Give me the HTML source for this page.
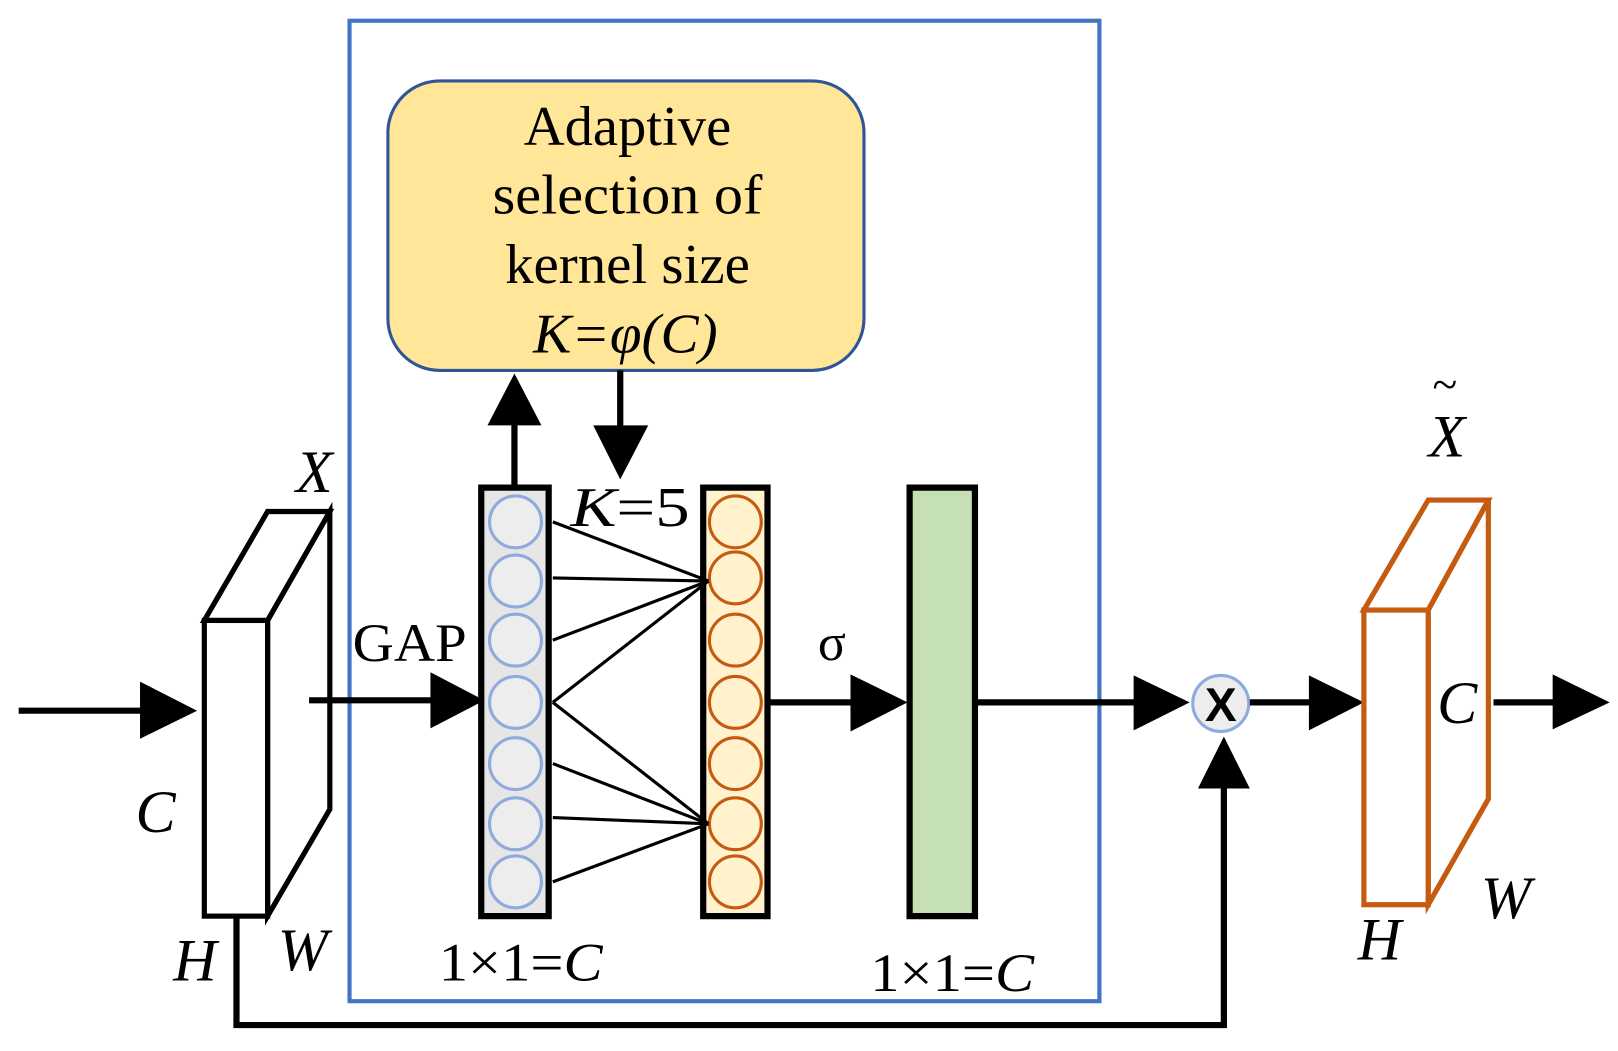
<!DOCTYPE html>
<html><head><meta charset="utf-8"><style>html,body{margin:0;padding:0;background:#fff}svg{display:block}</style></head>
<body>
<svg width="1618" height="1051" viewBox="0 0 1560 1013" preserveAspectRatio="none" xmlns="http://www.w3.org/2000/svg" font-family="Liberation Serif, serif">
<rect x="337" y="20" width="723" height="945" fill="none" stroke="#4472C4" stroke-width="4"/>
<rect x="374" y="78" width="459" height="279" rx="50" fill="#FFE699" stroke="#2F5597" stroke-width="3"/>
<g font-size="54" text-anchor="middle" fill="#000">
<text x="605" y="140" textLength="200" lengthAdjust="spacingAndGlyphs">Adaptive</text>
<text x="605" y="206" textLength="260" lengthAdjust="spacingAndGlyphs">selection of</text>
<text x="605" y="273" textLength="236" lengthAdjust="spacingAndGlyphs">kernel size</text>
<text x="603" y="340" font-style="italic" textLength="178" lengthAdjust="spacingAndGlyphs">K=φ(C)</text>
</g>
<line x1="496" y1="468" x2="496" y2="405" stroke="#000" stroke-width="6"/>
<polygon points="496,360 470,410 522,410" fill="#000"/>
<line x1="598" y1="357" x2="598" y2="415" stroke="#000" stroke-width="6"/>
<polygon points="598,462 572,410 625,410" fill="#000"/>
<rect x="464" y="470" width="65" height="413" fill="#E7E6E6" stroke="#000" stroke-width="6"/>
<g fill="#EDEDED" stroke="#8FAADC" stroke-width="3">
<circle cx="497" cy="503" r="25"/><circle cx="497" cy="560" r="25"/><circle cx="497" cy="617" r="25"/><circle cx="497" cy="677" r="25"/><circle cx="497" cy="736" r="25"/><circle cx="497" cy="794" r="25"/><circle cx="497" cy="850" r="25"/>
</g>
<rect x="678" y="470" width="62" height="413" fill="#FFF2CC" stroke="#000" stroke-width="6"/>
<g fill="#FFF2CC" stroke="#C55A11" stroke-width="3">
<circle cx="709" cy="503" r="25"/><circle cx="709" cy="557" r="25"/><circle cx="709" cy="617" r="25"/><circle cx="709" cy="677" r="25"/><circle cx="709" cy="736" r="25"/><circle cx="709" cy="794" r="25"/><circle cx="709" cy="850" r="25"/>
</g>
<g stroke="#000" stroke-width="3">
<line x1="533" y1="503" x2="683" y2="560"/><line x1="533" y1="557" x2="683" y2="560"/><line x1="533" y1="617" x2="683" y2="560"/><line x1="533" y1="677" x2="683" y2="560"/>
<line x1="533" y1="677" x2="683" y2="794"/><line x1="533" y1="736" x2="683" y2="794"/><line x1="533" y1="788" x2="683" y2="794"/><line x1="533" y1="850" x2="683" y2="794"/>
</g>
<text x="550" y="507" font-size="54" textLength="115" lengthAdjust="spacingAndGlyphs"><tspan font-style="italic">K</tspan>=5</text>
<rect x="877" y="470" width="63" height="413" fill="#C5E0B4" stroke="#000" stroke-width="6"/>
<line x1="740" y1="677" x2="825" y2="677" stroke="#000" stroke-width="6"/>
<polygon points="875,677 820,650 820,705" fill="#000"/>
<text x="802" y="636" font-size="50" text-anchor="middle">σ</text>
<line x1="940" y1="677" x2="1100" y2="677" stroke="#000" stroke-width="6"/>
<polygon points="1147,677 1093,651 1093,704" fill="#000"/>
<circle cx="1177" cy="678" r="27" fill="#EDEDED" stroke="#8FAADC" stroke-width="3"/>
<text x="1177" y="695" font-size="46" font-weight="bold" font-family="Liberation Sans, sans-serif" text-anchor="middle">X</text>
<line x1="1205" y1="677" x2="1268" y2="677" stroke="#000" stroke-width="6"/>
<polygon points="1315,677 1262,651 1262,704" fill="#000"/>
<g fill="#fff" stroke="#C55A11" stroke-width="5">
<polygon points="1377,588 1435,482 1435,770 1377,872"/>
<polygon points="1315,588 1377,482 1435,482 1377,588"/>
<rect x="1315" y="588" width="62" height="284"/>
</g>
<g font-size="58" font-style="italic" text-anchor="middle">
<text x="1395" y="440">X</text>
<text x="1405" y="697">C</text>
<text x="1452" y="885">W</text>
<text x="1330" y="925">H</text>
<text x="303" y="474">X</text>
<text x="150" y="802">C</text>
<text x="188" y="945">H</text>
<text x="292" y="935">W</text>
</g>
<text x="1393" y="385" font-size="44" text-anchor="middle">~</text>
<line x1="1440" y1="677" x2="1502" y2="677" stroke="#000" stroke-width="6"/>
<polygon points="1552,677 1497,650 1497,703" fill="#000"/>
<g fill="#fff" stroke="#000" stroke-width="5">
<polygon points="258,598 318,493 318,780 258,883"/>
<polygon points="197,598 258,493 318,493 258,598"/>
<rect x="197" y="598" width="61" height="285"/>
</g>
<line x1="18" y1="685" x2="140" y2="685" stroke="#000" stroke-width="6"/>
<polygon points="190,685 135,657 135,712" fill="#000"/>
<line x1="298" y1="675" x2="420" y2="675" stroke="#000" stroke-width="6"/>
<polygon points="467,675 415,648 415,702" fill="#000"/>
<text x="395" y="637" font-size="52" text-anchor="middle" textLength="110" lengthAdjust="spacingAndGlyphs">GAP</text>
<polyline points="228,883 228,988 1180,988 1180,755" fill="none" stroke="#000" stroke-width="6"/>
<polygon points="1180,710 1155,760 1205,760" fill="#000"/>
<g font-size="52" text-anchor="middle">
<text x="502" y="945" textLength="158" lengthAdjust="spacingAndGlyphs">1×1=<tspan font-style="italic">C</tspan></text>
<text x="918" y="955" textLength="158" lengthAdjust="spacingAndGlyphs">1×1=<tspan font-style="italic">C</tspan></text>
</g>
</svg>
</body></html>
